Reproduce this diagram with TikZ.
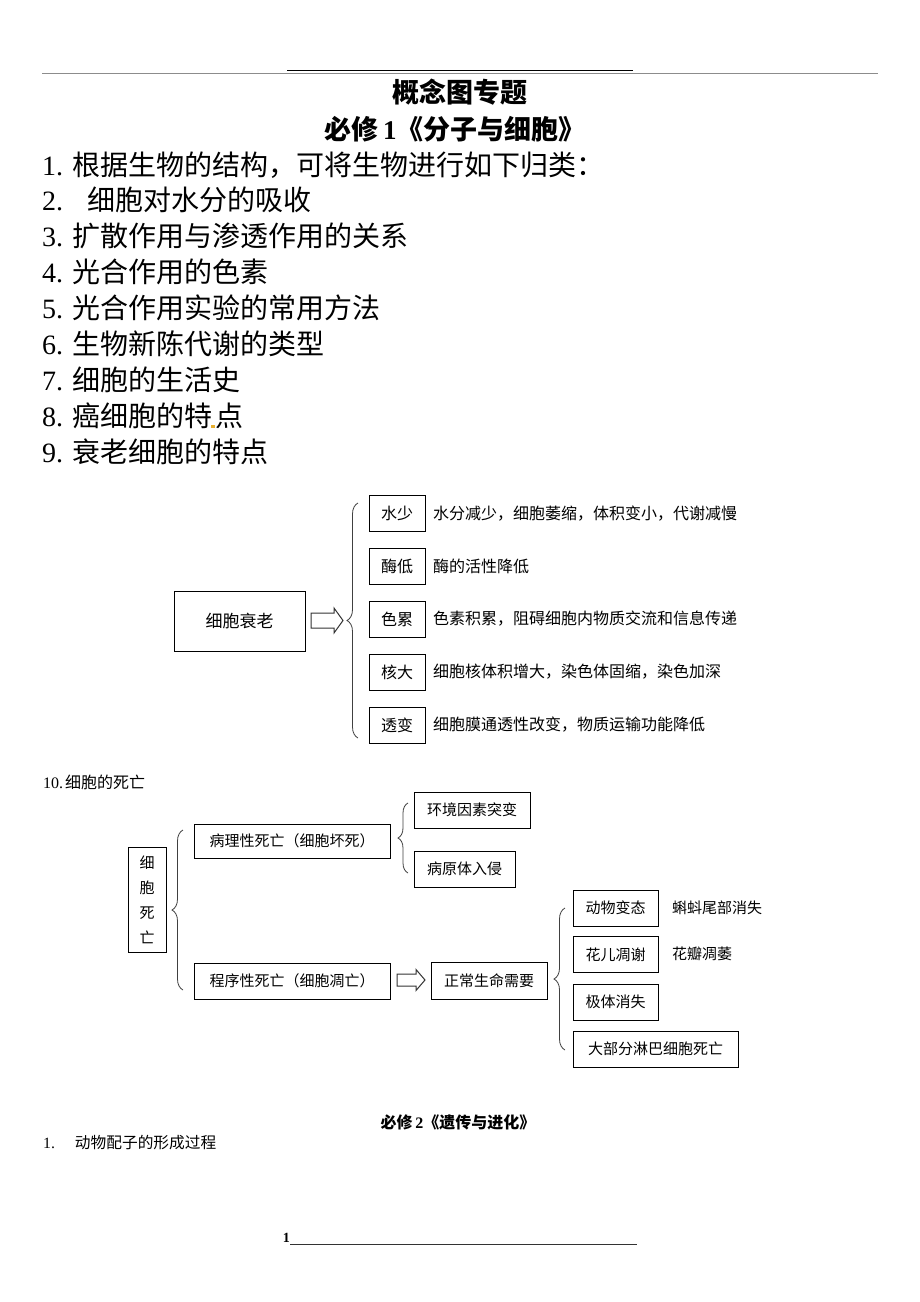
\documentclass[tikz,border=0pt]{standalone}
\usepackage{fontspec}
\newfontfamily\cjk{Noto Sans CJK SC}
\newfontfamily\lat{Liberation Serif}
\usetikzlibrary{decorations.pathreplacing}
\definecolor{dotor}{HTML}{E8B030}
\tikzset{
  box/.style={draw, line width=0.9pt, inner sep=0pt, font=\cjk\fontsize{16}{16}\selectfont},
  dbox/.style={draw, line width=0.9pt, inner sep=0pt, minimum height=36pt, font=\cjk\fontsize{15}{15}\selectfont},
  desc/.style={anchor=west, inner sep=0pt, font=\cjk\fontsize{16}{16}\selectfont},
  ddesc/.style={anchor=west, inner sep=0pt, font=\cjk\fontsize{15}{15}\selectfont},
  item/.style={anchor=west, inner sep=0pt, font=\cjk\fontsize{28}{28}\selectfont},
  brc/.style={decorate, draw=black!75, line width=0.8pt},
  hollow/.style={draw=black!80, line width=1pt, fill=white, line join=miter}
}
\newcommand{\harrow}[5]{% x0, x1, y, shaft half, head half
  \draw[hollow] (#1,#3-#4) -- (#2-9,#3-#4) -- (#2-9,#3-#5) -- (#2,#3) -- (#2-9,#3+#5) -- (#2-9,#3+#4) -- (#1,#3+#4) -- cycle;}
\newcommand{\nm}[1]{{\lat #1}\hspace{9pt}}
\begin{document}
\begin{tikzpicture}[x=1pt,y=-1pt]
\fill[white] (0,0) rectangle (920,1302);
\useasboundingbox (0,0) rectangle (920,1302);
% header rules
\draw[black!45, line width=1pt] (42,73) -- (878,73);
\draw[black, line width=1pt] (287,70.5) -- (633,70.5);
% titles
\node[inner sep=0pt, font=\cjk\bfseries\fontsize{27}{27}\selectfont] (t1) at (460,92) {概念图专题};
\node[inner sep=0pt, font=\cjk\bfseries\fontsize{27}{27}\selectfont] (t2) at (455,129) {必修\,{\lat\bfseries 1}《分子与细胞》};
% list
\node[item] (l1) at (42,165) {\nm{1.}根据生物的结构，可将生物进行如下归类：};
\node[item] (l2) at (42,200) {{\lat 2.}\hspace{24pt}细胞对水分的吸收};
\node[item] (l3) at (42,236) {\nm{3.}扩散作用与渗透作用的关系};
\node[item] (l4) at (42,272) {\nm{4.}光合作用的色素};
\node[item] (l5) at (42,308) {\nm{5.}光合作用实验的常用方法};
\node[item] (l6) at (42,344) {\nm{6.}生物新陈代谢的类型};
\node[item] (l7) at (42,380) {\nm{7.}细胞的生活史};
\node[item] (l8) at (42,416) {\nm{8.}癌细胞的特\hspace{3pt}点};
\node[item] (l9) at (42,452) {\nm{9.}衰老细胞的特点};
\fill[dotor] (211,424.5) rectangle (214.5,428);
% aging diagram
\node[box, minimum width=131pt, minimum height=60pt, font=\cjk\fontsize{17}{17}\selectfont] (old) at (239.5,621) {细胞衰老};
\harrow{311}{343}{620.5}{7.5}{12.5}
\draw[brc, decoration={brace, amplitude=11pt}] (358,738) -- (358,503);
\foreach \n/\t/\y/\d in {a/水少/513.5/水分减少，细胞萎缩，体积变小，代谢减慢,
                         b/酶低/566.5/酶的活性降低,
                         c/色累/619/色素积累，阻碍细胞内物质交流和信息传递,
                         d/核大/672/细胞核体积增大，染色体固缩，染色加深,
                         e/透变/725/细胞膜通透性改变，物质运输功能降低}{
  \node[box, minimum width=56pt, minimum height=36pt] (k\n) at (397,\y) {\t};
  \node[desc] (s\n) at (433,\y) {\d};
}
% death section
\node[anchor=west, inner sep=0pt, font=\cjk\fontsize{16}{16}\selectfont] (h10) at (43,782) {{\lat 10.}\hspace{2pt}细胞的死亡};
\node[draw, line width=0.9pt, inner sep=0pt, minimum width=38pt, minimum height=105pt, align=center, font=\cjk\fontsize{15}{25}\selectfont] (death) at (147,899.5) {细\\胞\\死\\亡};
\draw[brc, decoration={brace, amplitude=11pt}] (183,990) -- (183,830);
\node[dbox, minimum width=196pt, minimum height=34pt] (patho) at (292,841) {病理性死亡（细胞坏死）};
\node[dbox, minimum width=196pt] (prog) at (292,981) {程序性死亡（细胞凋亡）};
\draw[brc, decoration={brace, amplitude=10pt}] (408,873) -- (408,803);
\node[dbox, minimum width=116pt] (env) at (472,810) {环境因素突变};
\node[dbox, minimum width=101pt] (pat) at (464.5,869) {病原体入侵};
\harrow{397}{425}{980}{6}{10.5}
\node[dbox, minimum width=116pt, minimum height=37pt] (norm) at (489,980.5) {正常生命需要};
\draw[brc, decoration={brace, amplitude=11pt}] (565,1050) -- (565,908);
\node[dbox, minimum width=85pt] (m1) at (615.5,908) {动物变态};
\node[dbox, minimum width=85pt] (m2) at (615.5,954.5) {花儿凋谢};
\node[dbox, minimum width=85pt] (m3) at (615.5,1002) {极体消失};
\node[dbox, minimum width=165pt] (m4) at (655.5,1049) {大部分淋巴细胞死亡};
\node[ddesc] (n1) at (672,908) {蝌蚪尾部消失};
\node[ddesc] (n2) at (672,954) {花瓣凋萎};
% bottom
\node[inner sep=0pt, font=\cjk\bfseries\fontsize{16}{16}\selectfont] (t3) at (458,1122) {必修\,{\lat\bfseries 2}《遗传与进化》};
\node[anchor=west, inner sep=0pt, font=\cjk\fontsize{15.7}{16}\selectfont] (h1) at (43,1143) {{\lat 1.}\hspace{20pt}动物配子的形成过程};
\node[anchor=east, inner sep=0pt, font=\lat\bfseries\fontsize{14}{14}\selectfont] (pg) at (290,1238) {1};
\coordinate (fl) at (637,1244);
\draw[black!80, line width=0.8pt] (290,1244) -- (fl);
\end{tikzpicture}
\end{document}
